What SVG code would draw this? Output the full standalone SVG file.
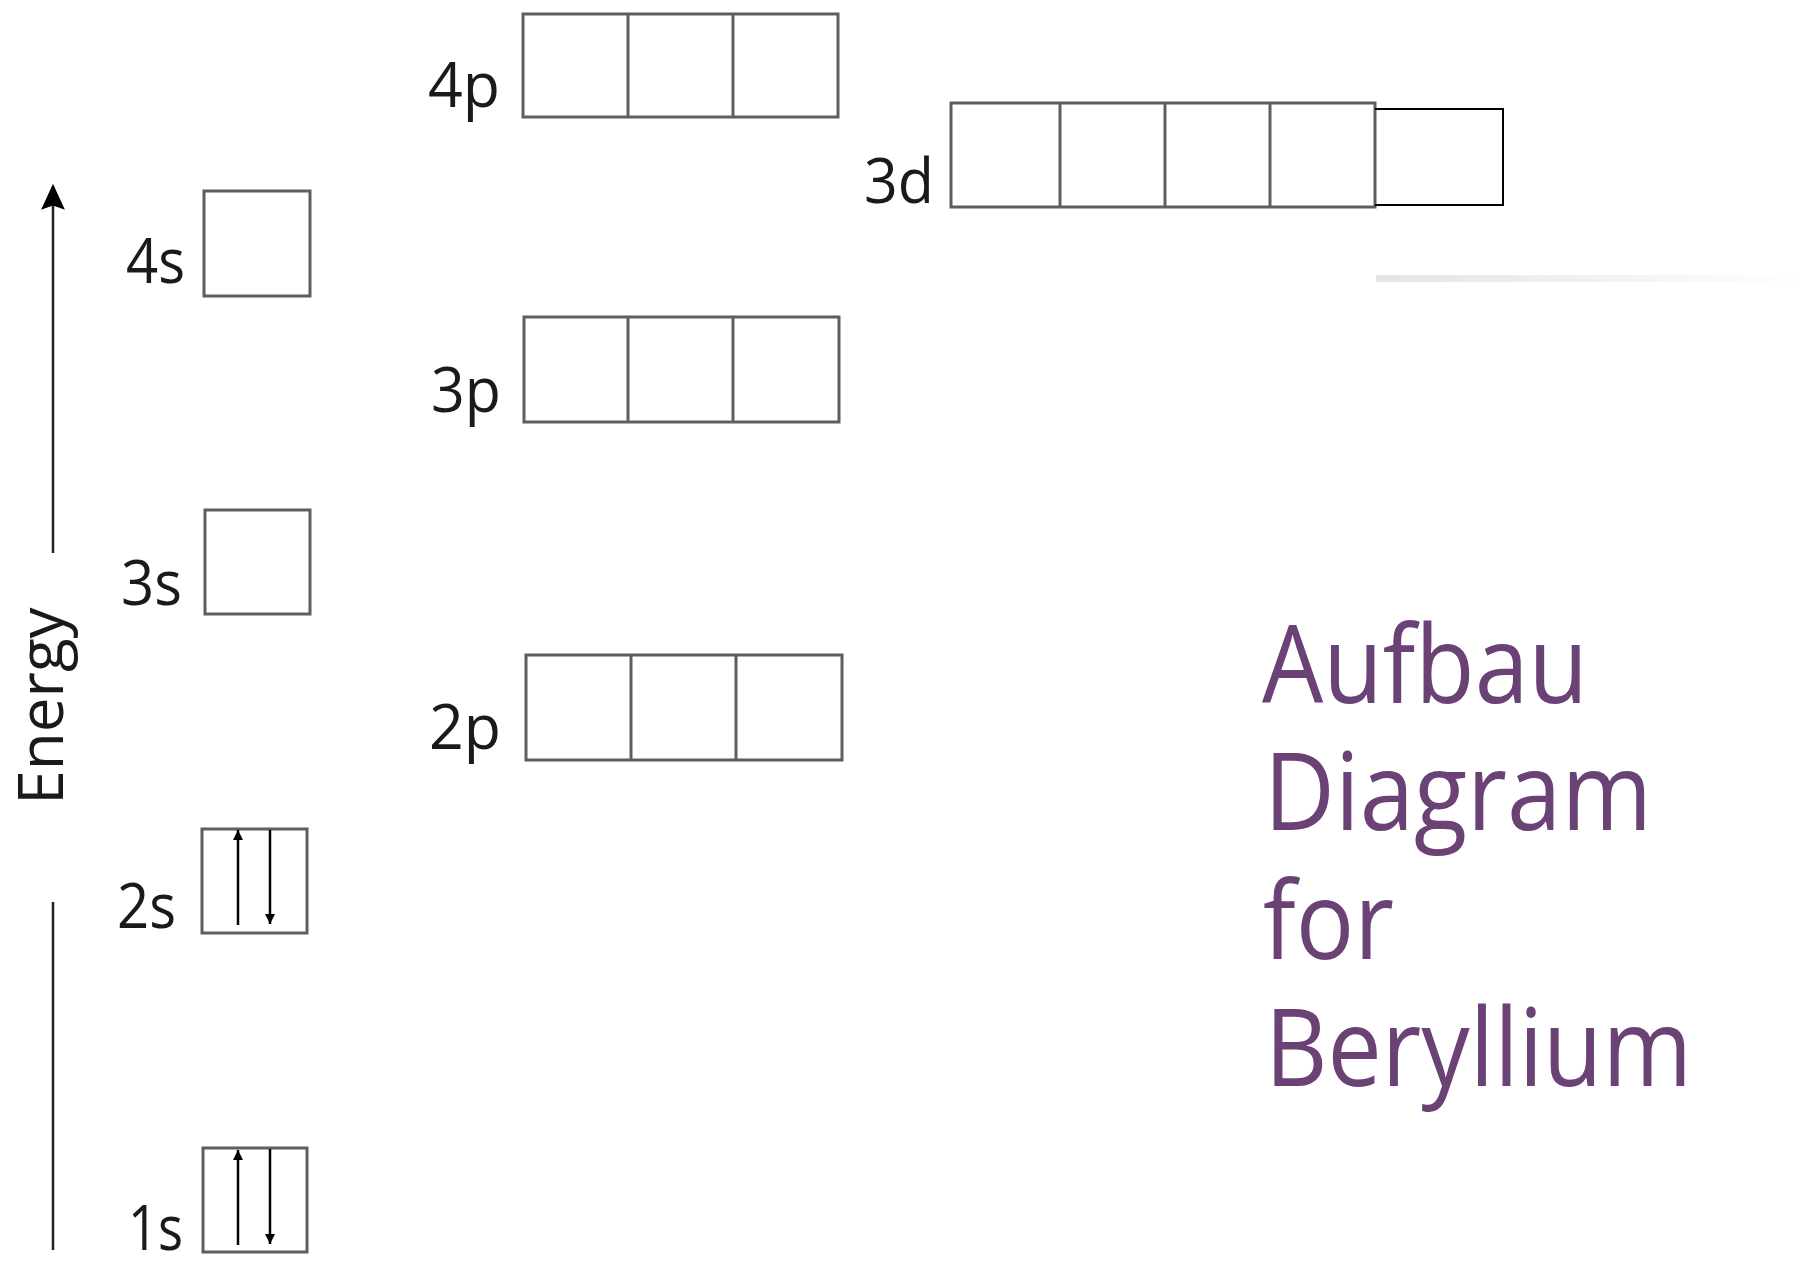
<svg xmlns="http://www.w3.org/2000/svg" width="1806" height="1269" viewBox="0 0 1806 1269">
<defs>
<style>
.box{fill:none;stroke:#5e5e5e;stroke-width:3}
.div{stroke:#5e5e5e;stroke-width:3}
.lbl{font-family:"Open Sans","Noto Sans",sans-serif;font-size:62px;fill:#1a1a1a}
.e{stroke:#000;stroke-width:2.5;fill:none}
.title{font-family:"Open Sans","Noto Sans",sans-serif;font-size:108px;font-weight:500;fill:#6a4275}
</style>
<marker id="ah" viewBox="0 0 10 10" refX="10" refY="5" markerWidth="10" markerHeight="14" markerUnits="userSpaceOnUse" orient="auto">
<path d="M0,0 L10,5 L0,10 z" fill="#000"/>
</marker>
<marker id="axh" viewBox="0 0 24 24" refX="22" refY="12" markerWidth="26" markerHeight="26" markerUnits="userSpaceOnUse" orient="auto">
<path d="M0,1 L24,12 L0,23 L4,12 z" fill="#000"/>
</marker>
<linearGradient id="fade" x1="0" y1="0" x2="1" y2="0">
<stop offset="0" stop-color="#e4e4e4"/>
<stop offset="1" stop-color="#ffffff"/>
</linearGradient>
</defs>
<rect width="1806" height="1269" fill="#fff"/>

<g id="axis">
<line x1="53" y1="553" x2="53" y2="186" stroke="#222" stroke-width="2.5" marker-end="url(#axh)"/>
<line x1="53" y1="902" x2="53" y2="1250" stroke="#222" stroke-width="2.5"/>
<text class="lbl" font-size="65" transform="translate(63,706) rotate(-90)" text-anchor="middle">Energy</text>
</g>

<g id="orb-1s">
<rect class="box" x="203" y="1148" width="104" height="104"/>
<line class="e" x1="238" y1="1245" x2="238" y2="1150" marker-end="url(#ah)"/>
<line class="e" x1="270" y1="1149" x2="270" y2="1244" marker-end="url(#ah)"/>
<text class="lbl" x="128" y="1250" textLength="55" lengthAdjust="spacingAndGlyphs">1s</text>
</g>

<g id="orb-2s">
<rect class="box" x="202" y="829" width="105" height="104"/>
<line class="e" x1="238" y1="925" x2="238" y2="830" marker-end="url(#ah)"/>
<line class="e" x1="270" y1="830" x2="270" y2="924" marker-end="url(#ah)"/>
<text class="lbl" x="117" y="928" textLength="59" lengthAdjust="spacingAndGlyphs">2s</text>
</g>

<g id="orb-3s">
<rect class="box" x="205" y="510" width="105" height="104"/>
<text class="lbl" x="121" y="605" textLength="61" lengthAdjust="spacingAndGlyphs">3s</text>
</g>

<g id="orb-4s">
<rect class="box" x="204" y="191" width="106" height="105"/>
<text class="lbl" x="126" y="283" textLength="59" lengthAdjust="spacingAndGlyphs">4s</text>
</g>

<g id="orb-2p">
<rect class="box" x="526" y="655" width="316" height="105"/>
<line class="div" x1="631" y1="655" x2="631" y2="760"/>
<line class="div" x1="736" y1="655" x2="736" y2="760"/>
<text class="lbl" x="429" y="749" textLength="72" lengthAdjust="spacingAndGlyphs">2p</text>
</g>

<g id="orb-3p">
<rect class="box" x="524" y="317" width="315" height="105"/>
<line class="div" x1="628" y1="317" x2="628" y2="422"/>
<line class="div" x1="733" y1="317" x2="733" y2="422"/>
<text class="lbl" x="431" y="412" textLength="70" lengthAdjust="spacingAndGlyphs">3p</text>
</g>

<g id="orb-4p">
<rect class="box" x="523" y="14" width="315" height="103"/>
<line class="div" x1="628" y1="14" x2="628" y2="117"/>
<line class="div" x1="733" y1="14" x2="733" y2="117"/>
<text class="lbl" x="428" y="107" textLength="72" lengthAdjust="spacingAndGlyphs">4p</text>
</g>

<g id="orb-3d">
<rect class="box" x="951" y="103" width="424" height="104"/>
<line class="div" x1="1060" y1="103" x2="1060" y2="207"/>
<line class="div" x1="1165" y1="103" x2="1165" y2="207"/>
<line class="div" x1="1270" y1="103" x2="1270" y2="207"/>
<polyline points="1375,109 1503,109 1503,205 1375,205" fill="none" stroke="#000" stroke-width="2"/>
<rect x="1376" y="275" width="430" height="7" fill="url(#fade)"/>
<text class="lbl" x="864" y="203" textLength="70" lengthAdjust="spacingAndGlyphs">3d</text>
</g>

<g id="title">
<text class="title"><tspan x="1262" y="703" textLength="326" lengthAdjust="spacingAndGlyphs">Aufbau</tspan><tspan x="1264" y="830" textLength="388" lengthAdjust="spacingAndGlyphs">Diagram</tspan><tspan x="1263" y="959" textLength="131" lengthAdjust="spacingAndGlyphs">for</tspan><tspan x="1265" y="1086" textLength="427" lengthAdjust="spacingAndGlyphs">Beryllium</tspan></text>
</g>
</svg>
